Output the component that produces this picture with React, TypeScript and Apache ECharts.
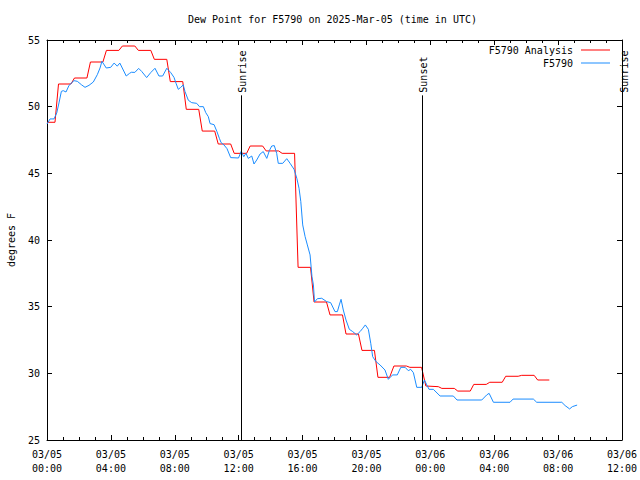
import React, { useEffect, useRef } from "react";
import * as echarts from "echarts";

const FONT = "'DejaVu Sans Mono', 'Liberation Mono', monospace";

const titleText = "Dew Point for F5790 on 2025-Mar-05 (time in UTC)";
const yAxisTitle = "degrees F";

const xTickLabels = [
  "03/05\n00:00", "03/05\n04:00", "03/05\n08:00", "03/05\n12:00", "03/05\n16:00",
  "03/05\n20:00", "03/06\n00:00", "03/06\n04:00", "03/06\n08:00", "03/06\n12:00",
];

// Hours since 2025-03-05 00:00 UTC
const analysisName = "F5790 Analysis";
const redHours = [
  0, 0.5, 0.72, 1.5, 1.72, 2.5, 2.72, 3.5, 3.72, 4.5, 4.72, 5.5, 5.72, 6.5, 6.72, 7.5,
  7.72, 8.5, 8.72, 9.5, 9.72, 10.5, 10.72, 11.5, 11.72, 12.5, 12.72, 13.5, 13.72, 14.5,
  14.72, 15.5, 15.72, 16.5, 16.72, 17.5, 17.72, 18.5, 18.72, 19.5, 19.72, 20.5, 20.72,
  21.45, 21.72, 22.5, 22.72, 23.45, 23.72, 24.5, 24.72, 25.5, 25.72, 26.5, 26.72, 27.5,
  27.72, 28.5, 28.72, 29.5, 29.72, 30.5, 30.72, 31.45,
];
const redValues = [
  48.83, 48.83, 51.7, 51.7, 52.15, 52.15, 53.35, 53.35, 54.22, 54.22, 54.55, 54.55, 54.22, 54.22, 53.55, 53.55,
  51.88, 51.88, 49.8, 49.8, 48.17, 48.17, 47.2, 47.2, 46.5, 46.5, 47.05, 47.05, 46.68, 46.68,
  46.5, 46.5, 37.95, 37.95, 35.35, 35.35, 34.38, 34.38, 32.95, 32.95, 31.72, 31.72, 29.7,
  29.7, 30.55, 30.55, 30.45, 30.45, 29.05, 29.0, 28.87, 28.87, 28.67, 28.67, 29.17, 29.17,
  29.33, 29.33, 29.78, 29.78, 29.85, 29.85, 29.5, 29.5,
];

const obsName = "F5790";
const blueHours = [
  0, 0.19, 0.44, 0.61, 0.75, 0.9, 1.02, 1.19, 1.38, 1.69, 1.9, 2.15, 2.38, 2.63, 2.9,
  3.15, 3.32, 3.44, 3.71, 3.99, 4.2, 4.4, 4.56, 4.96, 5.17, 5.28, 5.5, 5.74, 5.93, 6.24,
  6.49, 6.76, 7.01, 7.24, 7.5, 7.75, 7.95, 8.08, 8.22, 8.37, 8.53, 8.64, 8.85, 9.06, 9.37,
  9.55, 9.79, 9.94, 10.1, 10.21, 10.46, 10.64, 10.79, 10.9, 11.08, 11.27, 11.5, 11.99,
  12.16, 12.32, 12.46, 12.6, 12.82, 12.96, 13.13, 13.34, 13.54, 13.76, 13.92, 14.07,
  14.23, 14.38, 14.48, 14.76, 15.01, 15.22, 15.47, 15.64, 15.78, 15.89, 16.01, 16.16,
  16.3, 16.47, 16.59, 16.68, 16.75, 16.93, 17.2, 17.51, 17.76, 18.03, 18.18, 18.3, 18.41,
  18.55, 18.72, 18.93, 19.14, 19.39, 19.6, 19.77, 19.93, 20.12, 20.27, 20.39, 20.6, 20.85,
  21.16, 21.37, 21.52, 21.65, 21.93, 22.15, 22.42, 22.62, 22.77, 22.94, 23.15, 23.46,
  23.63, 23.78, 23.92, 24.19, 24.61, 25.44, 25.67, 27.22, 27.53, 27.68, 27.95, 28.99,
  29.18, 30.45, 30.66, 32.23, 32.44, 32.72, 32.89, 33.19,
];
const blueValues = [
  48.7, 49.08, 49.08, 49.53, 50.28, 51.15, 51.2, 51.1, 51.6, 51.95, 51.9, 51.65, 51.45, 51.6, 51.85,
  52.4, 52.9, 53.4, 52.9, 52.95, 53.27, 53.04, 53.27, 52.3, 52.5, 52.58, 52.57, 52.87, 52.64, 52.18,
  52.55, 52.88, 52.3, 52.3, 52.88, 52.55, 52.2, 51.75, 51.3, 51.45, 51.63, 51.13, 50.48, 50.3, 50.25,
  50.0, 50.0, 49.55, 49.25, 48.73, 48.65, 48.13, 47.63, 47.3, 47.13, 46.85, 46.18, 46.15,
  46.65, 46.25, 46.5, 46.12, 46.3, 45.7, 46.0, 46.45, 46.63, 46.12, 46.7, 47.05,
  47.08, 46.5, 45.75, 45.75, 46.1, 45.75, 45.3, 44.63, 43.88, 42.88, 41.13, 40.25,
  39.63, 38.88, 37.25, 36.63, 35.35, 35.6, 35.63, 35.38, 35.3, 34.63, 34.63, 35.13, 35.55,
  34.75, 34.0, 33.3, 33.13, 32.88, 33.13, 33.38, 33.63, 33.3, 32.25, 31.25, 30.88, 30.63,
  30.25, 29.55, 29.75, 29.88, 29.88, 30.45, 30.45, 30.2, 30.3, 30.05, 28.95, 28.95,
  29.5, 29.13, 28.8, 28.8, 28.3, 28.3, 28.0, 28.0, 28.38, 28.5, 27.83, 27.83,
  28.07, 28.07, 27.83, 27.83, 27.58, 27.33, 27.5, 27.62,
];

const sunHours = [12.17, 23.48, 36.12];
const sunLabels = ["Sunrise", "Sunset", "Sunrise"];

const RED = "#ff0000";
const BLUE = "#1a8cff";

export default function App() {
  const ref = useRef<HTMLDivElement>(null);

  useEffect(() => {
    document.body.style.margin = "0";
    if (!ref.current) return;
    const chart = echarts.init(ref.current, undefined, { renderer: "svg" });

    const textStyle = { fontFamily: FONT, fontSize: 10, color: "#000" };
    const baseX = {
      type: "value",
      min: 0,
      max: 36,
      interval: 4,
      axisLine: { show: true, onZero: false, lineStyle: { color: "#000", width: 1 } },
      axisTick: { show: true, inside: true, length: 5, lineStyle: { color: "#000", width: 1 } },
      minorTick: { show: true, splitNumber: 4, length: 3, lineStyle: { color: "#000", width: 1 } },
      splitLine: { show: false },
      minorSplitLine: { show: false },
    };
    const baseY = {
      type: "value",
      min: 25,
      max: 55,
      interval: 5,
      axisLine: { show: true, onZero: false, lineStyle: { color: "#000", width: 1 } },
      axisTick: { show: true, inside: true, length: 5, lineStyle: { color: "#000", width: 1 } },
      splitLine: { show: false },
    };

    const legendBase = {
      right: 30,
      padding: 0,
      align: "right",
      icon: "rect",
      itemWidth: 29,
      itemHeight: 1,
      itemGap: 0,
      textStyle: { ...textStyle, padding: [0, 3, 0, 0] },
      selectedMode: false,
    };

    const option: any = {
      animation: false,
      backgroundColor: "#fff",
      title: {
        text: titleText,
        left: 188,
        top: 14,
        padding: 0,
        textStyle: { ...textStyle, fontWeight: "normal" },
      },
      legend: [
        { ...legendBase, data: [analysisName], top: 45 },
        { ...legendBase, data: [obsName], top: 58 },
      ],
      grid: {
        left: 47,
        right: 18,
        top: 40,
        bottom: 40,
        containLabel: false,
        outerBoundsMode: "none",
      },
      xAxis: [
        {
          ...baseX,
          position: "bottom",
          axisLabel: {
            ...textStyle,
            margin: 7,
            lineHeight: 14,
            formatter: (v: number) => xTickLabels[Math.round(v / 4)] ?? "",
          },
        },
        { ...baseX, position: "top", axisLabel: { show: false } },
      ],
      yAxis: [
        {
          ...baseY,
          position: "left",
          name: yAxisTitle,
          nameLocation: "middle",
          nameRotate: 90,
          nameGap: 31,
          nameTextStyle: textStyle,
          axisLabel: { ...textStyle, margin: 7 },
        },
        { ...baseY, position: "right", axisLabel: { show: false } },
      ],
      series: [
        {
          name: analysisName,
          type: "line",
          data: redHours.map((h, i) => [h, redValues[i]]),
          showSymbol: false,
          symbol: "none",
          clip: false,
          color: RED,
          lineStyle: { color: RED, width: 1 },
          itemStyle: { color: RED },
          markLine: {
            silent: true,
            symbol: ["none", "none"],
            label: { show: false },
            lineStyle: { color: "#000", width: 1, type: "solid" },
            data: sunHours.map((h) => [{ coord: [h, 25] }, { coord: [h, 50.85] }]),
          },
        },
        {
          name: obsName,
          type: "line",
          data: blueHours.map((h, i) => [h, blueValues[i]]),
          showSymbol: false,
          symbol: "none",
          color: BLUE,
          lineStyle: { color: BLUE, width: 1 },
          itemStyle: { color: BLUE },
        },
      ],
    };
    chart.setOption(option);

    const graphics = sunHours.map((h, i) => {
      const p = chart.convertToPixel({ xAxisIndex: 0, yAxisIndex: 0 }, [h, 51.05]) as number[];
      return {
        type: "text",
        x: p[0] + 1,
        y: p[1],
        rotation: Math.PI / 2,
        style: {
          text: sunLabels[i],
          font: `10px ${FONT}`,
          fill: "#000",
          align: "left",
          verticalAlign: "middle",
        },
      };
    });
    chart.setOption({ graphic: graphics });

    return () => chart.dispose();
  }, []);

  return <div ref={ref} style={{ width: 640, height: 480 }} />;
}
